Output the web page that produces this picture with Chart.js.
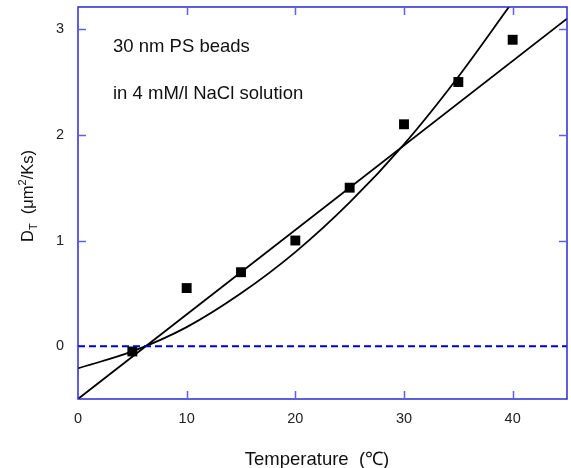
<!DOCTYPE html>
<html>
<head>
<meta charset="utf-8">
<script src="https://cdn.jsdelivr.net/npm/chart.js@4.4.0/dist/chart.umd.min.js"></script>
<style>
html,body{margin:0;padding:0;background:#fff;}
#wrap{width:571px;height:468px;}
</style>
</head>
<body>
<div id="wrap"><canvas id="c" width="571" height="468"></canvas></div>
<script>
// Measured data
const temperatures = [5, 10, 15, 20, 25, 30, 35, 40];
const dtValues = [-0.05, 0.55, 0.70, 1.00, 1.50, 2.10, 2.50, 2.90];
// Fitted curves
const linearFitX = [0, 45];
const linearFitY = [-0.5, 3.1];
const curveFitX = [0, 5, 10, 15, 20, 25, 30, 35, 40];
const curveFitY = [-0.21, -0.05, 0.18, 0.50, 0.89, 1.36, 1.91, 2.55, 3.26];
const zeroLineX = [0, 45];
const zeroLineY = [0, 0];
const xTicks = [0, 10, 20, 30, 40];
const yTicks = [0, 1, 2, 3];
const annotationLines = ["30 nm PS beads", "in 4 mM/l NaCl solution"];
const xTitle = "Temperature  (\u2103)";

const FONT = "'Liberation Sans', Arial, sans-serif";
const FRAME = '#2a2ad6';
const TICKC = '#5f5fe8';

const toXY = (xs, ys) => xs.map((x, i) => ({x: x, y: ys[i]}));

const decor = {
  id: 'decor',
  afterDraw(chart) {
    const ctx = chart.ctx;
    const a = chart.chartArea;
    const xs = chart.scales.x, ys = chart.scales.y;
    ctx.save();
    // frame
    ctx.strokeStyle = FRAME;
    ctx.lineWidth = 1.5;
    ctx.strokeRect(a.left, a.top, a.right - a.left, a.bottom - a.top);
    // inner ticks
    ctx.strokeStyle = TICKC;
    ctx.lineWidth = 1.5;
    const L = 8;
    xTicks.forEach(v => {
      if (v === 0) return;
      const px = Math.round(xs.getPixelForValue(v)) + 0.5;
      ctx.beginPath();
      ctx.moveTo(px, a.bottom); ctx.lineTo(px, a.bottom - L);
      ctx.moveTo(px, a.top); ctx.lineTo(px, a.top + L);
      ctx.stroke();
    });
    yTicks.forEach(v => {
      if (v === 0) return;
      const py = Math.round(ys.getPixelForValue(v)) + 0.5;
      ctx.beginPath();
      ctx.moveTo(a.left, py); ctx.lineTo(a.left + L, py);
      ctx.moveTo(a.right, py); ctx.lineTo(a.right - L, py);
      ctx.stroke();
    });
    // annotation text
    ctx.fillStyle = '#111';
    ctx.font = '18.5px ' + FONT;
    ctx.textBaseline = 'alphabetic';
    ctx.textAlign = 'left';
    ctx.fillText(annotationLines[0], 113, 51.5);
    ctx.fillText(annotationLines[1], 113, 98.5);
    // x title
    ctx.textAlign = 'center';
    ctx.fillText(xTitle, 317, 465);
    // y title with sub/superscript
    ctx.translate(33, 196);
    ctx.rotate(-Math.PI / 2);
    ctx.textAlign = 'left';
    ctx.textBaseline = 'alphabetic';
    const parts = [
      {t: 'D', size: 16.5, dy: 0},
      {t: 'T', size: 11, dy: 4},
      {t: '  (\u03bcm', size: 16.5, dy: 0},
      {t: '2', size: 11, dy: -7},
      {t: '/Ks)', size: 16.5, dy: 0}
    ];
    let total = 0;
    parts.forEach(p => { ctx.font = p.size + 'px ' + FONT; total += ctx.measureText(p.t).width; });
    let cx = -total / 2;
    parts.forEach(p => {
      ctx.font = p.size + 'px ' + FONT;
      ctx.fillText(p.t, cx, p.dy);
      cx += ctx.measureText(p.t).width;
    });
    ctx.restore();
  }
};

const noPad = s => { s.paddingTop = 0; s.paddingBottom = 0; s.paddingLeft = 0; s.paddingRight = 0; };

new Chart(document.getElementById('c'), {
  type: 'scatter',
  data: {
    datasets: [
      {
        label: 'zero',
        type: 'line',
        data: toXY(zeroLineX, zeroLineY),
        borderColor: '#0000cc',
        borderWidth: 2,
        borderDash: [7, 4],
        pointRadius: 0,
        fill: false
      },
      {
        label: 'linear',
        type: 'line',
        data: toXY(linearFitX, linearFitY),
        borderColor: '#000',
        borderWidth: 1.8,
        pointRadius: 0,
        fill: false
      },
      {
        label: 'curve',
        type: 'line',
        data: toXY(curveFitX, curveFitY),
        borderColor: '#000',
        borderWidth: 1.8,
        pointRadius: 0,
        cubicInterpolationMode: 'monotone',
        fill: false
      },
      {
        label: 'data',
        data: toXY(temperatures, dtValues),
        pointStyle: 'rect',
        pointRadius: 7,
        pointBackgroundColor: '#000',
        pointBorderColor: '#000',
        pointBorderWidth: 0
      }
    ]
  },
  options: {
    responsive: false,
    animation: false,
    devicePixelRatio: 1,
    layout: {autoPadding: false, padding: {top: 7, right: 4, left: 0, bottom: 0}},
    plugins: {legend: {display: false}, tooltip: {enabled: false}},
    scales: {
      x: {
        type: 'linear',
        min: 0, max: 45,
        afterBuildTicks: s => { s.ticks = xTicks.map(v => ({value: v})); },
        afterFit: s => { s.height = 69; noPad(s); },
        grid: {display: false, drawTicks: false},
        border: {display: false},
        ticks: {padding: 11, color: '#222', font: {family: FONT, size: 14.5}}
      },
      y: {
        type: 'linear',
        min: -0.5, max: 3.21,
        afterBuildTicks: s => { s.ticks = yTicks.map(v => ({value: v})); },
        afterFit: s => { s.width = 78; noPad(s); },
        grid: {display: false, drawTicks: false},
        border: {display: false},
        ticks: {padding: 14, color: '#222', font: {family: FONT, size: 14.5}}
      }
    }
  },
  plugins: [decor]
});
</script>
</body>
</html>
